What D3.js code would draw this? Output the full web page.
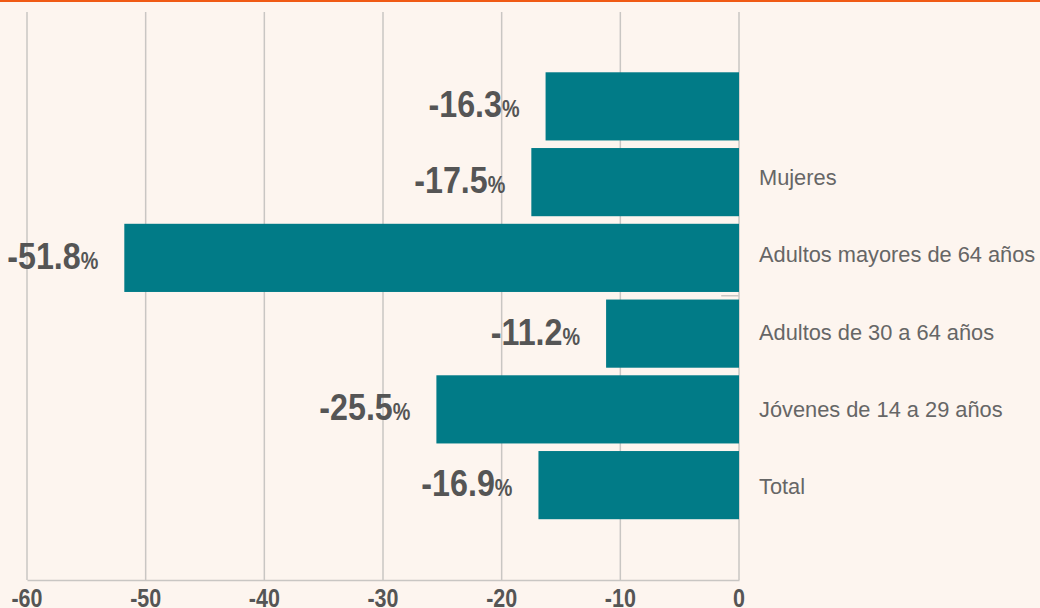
<!DOCTYPE html>
<meta charset="utf-8">
<script src="https://d3js.org/d3.v7.min.js"></script>
<body>
    <div id="viz"></div>
</body>
<style>
    body { margin: 0; background: #fdf5ef; }
    #viz { width: 1040px; height: 608px; }
</style>
<script>
    // data
    let categories = ["", "Mujeres", "Adultos mayores de 64 años", "Adultos de 30 a 64 años", "Jóvenes de 14 a 29 años", "Total"];
    let values = [-16.3, -17.5, -51.8, -11.2, -25.5, -16.9];
    let ticks = [-60, -50, -40, -30, -20, -10, 0];

    let width = 1040, height = 608;
    let boldFont = "'Liberation Sans', Arial, sans-serif";
    let sx = 0.86; // squeeze bold text to look condensed

    let svg = d3.select("#viz").append("svg")
        .attr("width", width)
        .attr("height", height);

    svg.append("rect")
        .attr("width", width).attr("height", height)
        .style("fill", "#fdf5ef");

    // orange line on top
    svg.append("rect")
        .attr("x", 0).attr("y", 0)
        .attr("width", width).attr("height", 2)
        .style("fill", "#f05a14");

    let x = d3.scaleLinear()
        .domain([-60, 0])
        .range([27, 739]);

    let y = d3.scaleBand()
        .domain(d3.range(categories.length))
        .range([68.5, 523])
        .paddingInner(0.1)
        .paddingOuter(0.05);

    // the category labels are spaced a little wider than the bars
    let yLabel = d3.scalePoint()
        .domain(d3.range(categories.length))
        .range([108, 494]);

    // vertical grid
    svg.append("g")
        .selectAll("line")
        .data(ticks)
        .enter()
        .append("line")
            .attr("x1", d => x(d))
            .attr("x2", d => x(d))
            .attr("y1", 12)
            .attr("y2", 580)
            .style("stroke", "#c9c6c3")
            .style("stroke-width", 1.5);

    // bottom axis line
    let xAxis = svg.append("g")
        .attr("transform", "translate(0,580)")
        .call(d3.axisBottom(x).tickValues(ticks).tickSize(0).tickFormat(""));
    xAxis.select(".domain")
        .style("stroke", "#c9c6c3")
        .style("stroke-width", 1.5);

    // tick labels (condensed bold)
    svg.append("g")
        .attr("transform", `scale(${sx},1)`)
        .selectAll("text")
        .data(ticks)
        .enter()
        .append("text")
            .attr("x", d => x(d) / sx)
            .attr("y", 607)
            .attr("text-anchor", "middle")
            .style("font-family", boldFont)
            .style("font-weight", "bold")
            .style("font-size", "25px")
            .style("fill", "#555")
            .text(d => String(d));

    // small tick on the zero line
    svg.append("line")
        .attr("x1", x(-1.5)).attr("x2", x(0))
        .attr("y1", (y(2) + y.bandwidth() + y(3)) / 2)
        .attr("y2", (y(2) + y.bandwidth() + y(3)) / 2)
        .style("stroke", "#c9c6c3")
        .style("stroke-width", 1.5);

    // bars
    svg.append("g")
        .selectAll("rect")
        .data(values)
        .enter()
        .append("rect")
            .attr("x", d => x(d))
            .attr("y", (d, i) => y(i))
            .attr("width", d => x(0) - x(d))
            .attr("height", y.bandwidth())
            .style("fill", "#017b87");

    // value labels
    let vl = svg.append("g")
        .attr("transform", `scale(${sx},1)`)
        .selectAll("text")
        .data(values)
        .enter()
        .append("text")
            .attr("x", d => (x(d) - 26) / sx)
            .attr("y", (d, i) => y(i) + y.bandwidth() / 2 + 11)
            .attr("text-anchor", "end")
            .style("font-family", boldFont)
            .style("font-weight", "bold")
            .style("fill", "#555");
    vl.append("tspan")
        .style("font-size", "37.5px")
        .text(d => d.toFixed(1));
    vl.append("tspan")
        .style("font-size", "23px")
        .text("%");

    // category labels
    svg.append("g")
        .selectAll("text")
        .data(categories)
        .enter()
        .append("text")
            .attr("x", 759)
            .attr("y", (d, i) => yLabel(i))
            .style("font-family", "'Liberation Sans', Arial, sans-serif")
            .style("font-size", "21.8px")
            .style("fill", "#666")
            .text(d => d);
</script>
